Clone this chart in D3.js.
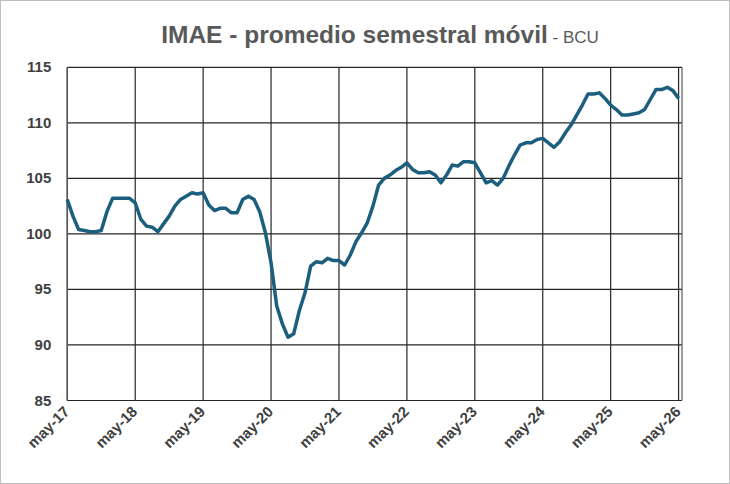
<!DOCTYPE html>
<html><head><meta charset="utf-8">
<script src="https://cdn.jsdelivr.net/npm/d3@7"></script>
<style>body{margin:0;background:#fff}svg{display:block}</style>
</head><body>
<svg id="c" width="730" height="484"></svg>
<script>
const values = [103.1,101.6,100.4,100.3,100.2,100.2,100.3,102.0,103.2,103.2,103.2,103.2,
102.8,101.3,100.7,100.6,100.2,100.9,101.6,102.5,103.1,103.4,103.7,103.6,
103.7,102.6,102.1,102.3,102.3,101.9,101.9,103.1,103.4,103.1,102.0,100.1,
97.4,93.5,91.9,90.7,91.0,93.1,94.7,97.1,97.5,97.4,97.8,97.6,
97.6,97.2,98.1,99.3,100.1,101.0,102.5,104.4,105.0,105.3,105.7,106.0,
106.4,105.8,105.5,105.5,105.6,105.3,104.6,105.3,106.2,106.1,106.5,106.5,
106.4,105.5,104.6,104.8,104.4,105.0,106.1,107.1,108.0,108.2,108.2,108.5,
108.6,108.2,107.8,108.3,109.1,109.8,110.7,111.6,112.6,112.6,112.7,112.2,
111.6,111.2,110.7,110.7,110.8,110.9,111.2,112.1,113.0,113.0,113.2,112.9,112.2];
const yTicks = [85,90,95,100,105,110,115];
const xTickLabels = ["may-17","may-18","may-19","may-20","may-21","may-22","may-23","may-24","may-25","may-26"];

const svg = d3.select("#c");
svg.append("rect").attr("x",0.5).attr("y",0.5).attr("width",729).attr("height",483)
  .attr("fill","#fff").attr("stroke","#bfbfbf");
const t = svg.append("text").attr("x",380).attr("y",43).attr("text-anchor","middle")
  .attr("font-family","Liberation Sans, Arial, sans-serif").attr("fill","#595959");
t.append("tspan").attr("font-size",24.5).attr("font-weight","bold").text("IMAE - promedio semestral móvil");
t.append("tspan").attr("font-size",17).text(" - BCU");

const L=67.3,R=682,T=67.3,B=400.5;
const data = values.map((v,i)=>({i,v}));
const x = d3.scaleLinear().domain([0,109.5]).range([L,L+5.66*109.5]);
const y = d3.scaleLinear().domain([85,115]).range([B,T]);
const g = svg.append("g");
yTicks.forEach(v=>{
  g.append("line").attr("x1",L).attr("x2",R).attr("y1",y(v)).attr("y2",y(v)).attr("stroke","#262626").attr("stroke-width",1.2);
  g.append("text").attr("x",L-16).attr("y",y(v)+5).attr("text-anchor","end")
   .attr("font-family","Liberation Sans, Arial, sans-serif").attr("font-size",15).attr("font-weight","bold")
   .attr("fill","#404040").text(v);
});
xTickLabels.forEach((lab,k)=>{
  const xx = x(k*12);
  g.append("line").attr("x1",xx).attr("x2",xx).attr("y1",T).attr("y2",B).attr("stroke","#262626").attr("stroke-width",1.2);
  g.append("text").attr("transform",`translate(${xx+3},${B+12}) rotate(-45)`).attr("text-anchor","end")
   .attr("font-family","Liberation Sans, Arial, sans-serif").attr("font-size",15).attr("font-weight","bold")
   .attr("fill","#404040").text(lab);
});
g.append("line").attr("x1",R).attr("x2",R).attr("y1",T).attr("y2",B).attr("stroke","#595959").attr("stroke-width",1.2);
g.append("line").attr("x1",L).attr("x2",L).attr("y1",T).attr("y2",B).attr("stroke","#595959").attr("stroke-width",1.5);
svg.append("path").datum(data).attr("fill","none").attr("stroke","#1b5e7e").attr("stroke-width",3.5)
  .attr("stroke-linejoin","round")
  .attr("d",d3.line().x(d=>x(d.i)).y(d=>y(d.v)));
</script></body></html>
